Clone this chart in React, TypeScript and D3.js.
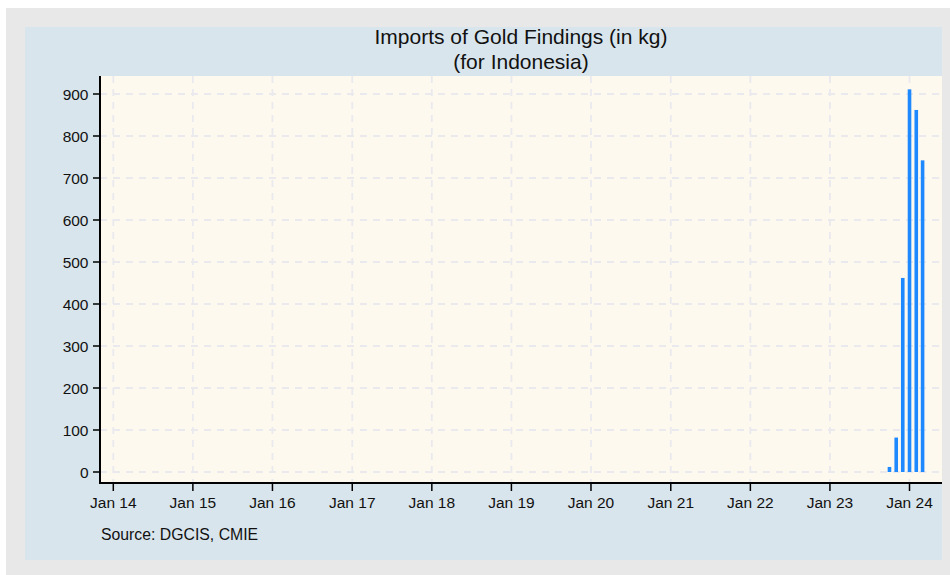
import React from "react";
import * as d3 from "d3";

const months = ["2023-10", "2023-11", "2023-12", "2024-01", "2024-02", "2024-03"];
const values = [12, 82, 462, 911, 862, 742];
const yTicks = [0, 100, 200, 300, 400, 500, 600, 700, 800, 900];
const xTickYears = [2014, 2015, 2016, 2017, 2018, 2019, 2020, 2021, 2022, 2023, 2024];

const W = 950, H = 575;
const plot = { left: 100, right: 942, top: 76, bottom: 483 };

export default function App() {
  const parse = d3.timeParse("%Y-%m");
  const x = d3.scaleTime()
    .domain([new Date(2013, 10, 1), new Date(2024, 4, 29)])
    .range([plot.left, plot.right]);
  const y = d3.scaleLinear().domain([0, 900]).range([472, 94]);
  const font = "Liberation Sans, Arial, sans-serif";
  const fmt = d3.timeFormat("Jan %y");
  const barW = 3.6;
  const cx0 = (plot.left + plot.right) / 2;
  return (
    <svg width={W} height={H} style={{ position: "absolute", left: 0, top: 0 }} fontFamily={font}>
      <rect x={0} y={0} width={W} height={H} fill="#fff" />
      <rect x={6} y={8} width={944} height={567} fill="#E8E8E8" />
      <rect x={25} y={27} width={917} height={533} fill="#D9E5EC" />
      <rect x={plot.left} y={plot.top} width={plot.right - plot.left} height={plot.bottom - plot.top} fill="#FDF9EF" />
      {yTicks.map(t => (
        <line key={"gy" + t} x1={plot.left} x2={plot.right} y1={y(t)} y2={y(t)} stroke="#EAE9EE" strokeWidth={1.8} strokeDasharray="7,6" />
      ))}
      {xTickYears.map(yr => {
        const xx = x(new Date(yr, 0, 1));
        return <line key={"gx" + yr} x1={xx} x2={xx} y1={plot.top} y2={plot.bottom} stroke="#EAE9EE" strokeWidth={1.8} strokeDasharray="7,6" />;
      })}
      {months.map((m, i) => {
        const d = parse(m)!;
        const cx = x(d);
        return <rect key={m} x={cx - barW / 2} y={y(values[i])} width={barW} height={y(0) - y(values[i])} fill="#1E88FF" />;
      })}
      <line x1={plot.left} x2={plot.left} y1={plot.top} y2={plot.bottom + 1} stroke="#000" strokeWidth={2} />
      <line x1={plot.left - 1} x2={plot.right} y1={plot.bottom} y2={plot.bottom} stroke="#000" strokeWidth={2} />
      {yTicks.map(t => (
        <g key={"yt" + t}>
          <line x1={plot.left - 7} x2={plot.left} y1={y(t)} y2={y(t)} stroke="#000" strokeWidth={1.5} />
          <text x={plot.left - 11.5} y={y(t)} dy="0.36em" textAnchor="end" fontSize={15.5} fill="#111">{t}</text>
        </g>
      ))}
      {xTickYears.map(yr => {
        const d = new Date(yr, 0, 1);
        const xx = x(d);
        return (
          <g key={"xt" + yr}>
            <line x1={xx} x2={xx} y1={plot.bottom} y2={plot.bottom + 8} stroke="#000" strokeWidth={1.5} />
            <text x={xx} y={plot.bottom + 25} textAnchor="middle" fontSize={15.5} fill="#111">{fmt(d)}</text>
          </g>
        );
      })}
      <text x={cx0} y={44} textAnchor="middle" fontSize={21} fill="#111">Imports of Gold Findings (in kg)</text>
      <text x={cx0} y={68.5} textAnchor="middle" fontSize={21} fill="#111">(for Indonesia)</text>
      <text x={101} y={540} fontSize={15.8} fill="#111">Source: DGCIS, CMIE</text>
    </svg>
  );
}
